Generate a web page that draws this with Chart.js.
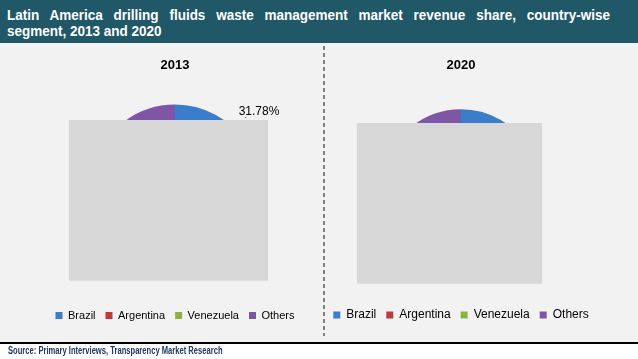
<!DOCTYPE html>
<html><head><meta charset="utf-8">
<script src="https://cdn.jsdelivr.net/npm/chart.js@4"></script>
<style>
body{margin:0;width:638px;height:359px;background:#fff;position:relative;overflow:hidden;font-family:"Liberation Sans",Arial,sans-serif}
#hdr{position:absolute;left:0;top:0;width:638px;height:43px;background:#215868}
#hdr div{position:absolute;left:7px;width:670px;color:#fff;font-weight:bold;font-size:15px;line-height:16px;font-family:"Liberation Sans",Arial,sans-serif;white-space:nowrap;transform:scaleX(0.9);transform-origin:0 0}
#l1{top:7px;text-align:justify;text-align-last:justify}
#l2{top:23px}
#bd{position:absolute;left:0;top:43px;width:638px;height:299px;background:#f2f2f2}
#rule{position:absolute;left:0;top:342px;width:638px;height:2px;background:#000}
#src{position:absolute;left:8px;top:345px;font:bold 10px "Liberation Sans",Arial,sans-serif;color:#1f3864;white-space:nowrap;transform:scaleX(0.76);transform-origin:0 0}
#dv{position:absolute;left:323px;top:46px;width:2px;height:290px;background:repeating-linear-gradient(to bottom,#7f7f7f 0px,#7f7f7f 4px,transparent 4px,transparent 7px)}
#c1{position:absolute;left:0;top:42px}
#c2{position:absolute;left:300px;top:42px}
.mask{position:absolute;background:#d7d7d7;box-shadow:0 1px 1px rgba(0,0,0,.08)}
</style></head>
<body>
<div id="hdr"><div id="l1">Latin America drilling fluids waste management market revenue share, country-wise</div><div id="l2">segment, 2013 and 2020</div></div>
<div id="bd"></div>
<div id="dv"></div>
<canvas id="c1" width="323" height="303"></canvas>
<canvas id="c2" width="322" height="303"></canvas>
<div class="mask" style="left:69px;top:120px;width:199px;height:160px"></div>
<div class="mask" style="left:357px;top:123px;width:185px;height:160px"></div>
<div id="rule"></div>
<div id="src">Source: Primary Interviews, Transparency Market Research</div>
<script>
const categories = ['Brazil', 'Argentina', 'Venezuela', 'Others'];
const colors = ['#3a7dca', '#c0393b', '#8bb43f', '#7f56a5'];
const share2013 = [31.78, 28.5, 19.4, 20.32];
const share2020 = [33.1, 27.4, 18.2, 21.3];
const years = ['2013', '2020'];

const FONT = '"Liberation Sans", Arial, sans-serif';

const labelPlugin = {
  id: 'brazilLabel',
  afterDatasetsDraw(chart) {
    const arc = chart.getDatasetMeta(0).data[0];
    const p = arc.getProps(['x','y','startAngle','endAngle','outerRadius'], true);
    const a = p.startAngle + 0.413 * (p.endAngle - p.startAngle);
    const ctx = chart.ctx;
    ctx.save();
    const rr = p.outerRadius + 29.8;
    ctx.font = '12px ' + FONT;
    ctx.fillStyle = '#000';
    ctx.textAlign = 'center';
    ctx.textBaseline = 'middle';
    const v = chart.data.datasets[0].data[0];
    ctx.fillText(v.toFixed(2) + '%', p.x + rr * Math.cos(a), p.y + rr * Math.sin(a));
    ctx.strokeStyle = '#555';
    ctx.lineWidth = 1;
    const a2 = p.startAngle + 0.39 * (p.endAngle - p.startAngle);
    ctx.beginPath();
    ctx.moveTo(p.x + (p.outerRadius + 15) * Math.cos(a2), p.y + (p.outerRadius + 15) * Math.sin(a2));
    ctx.lineTo(p.x + (p.outerRadius + 17) * Math.cos(a2), p.y + (p.outerRadius + 17) * Math.sin(a2));
    ctx.stroke();
    ctx.restore();
  }
};

function makePie(id, year, data, radius, padding, legendSize, plugins) {
  return new Chart(document.getElementById(id), {
    type: 'pie',
    data: {
      labels: categories,
      datasets: [{ data: data, backgroundColor: colors, borderWidth: 0, radius: radius }]
    },
    options: {
      responsive: false,
      animation: false,
      layout: { padding: padding },
      plugins: {
        title: { display: true, text: year, color: '#000', font: { family: FONT, size: 13, weight: 'bold' }, padding: { top: 16, bottom: 4.6 } },
        legend: { position: 'bottom', labels: { boxWidth: 7, boxHeight: 7, padding: 10, color: '#000', font: { family: FONT, size: legendSize } } },
        tooltip: { enabled: false }
      }
    },
    plugins: plugins
  });
}

makePie('c1', years[0], share2013, 84.6, { left: 27, right: 0, top: 0, bottom: 14 }, 11, [labelPlugin]);
makePie('c2', years[1], share2020, 79.3, { left: 0, right: 0, top: 0, bottom: 14 }, 12, []);
</script>
</body></html>
